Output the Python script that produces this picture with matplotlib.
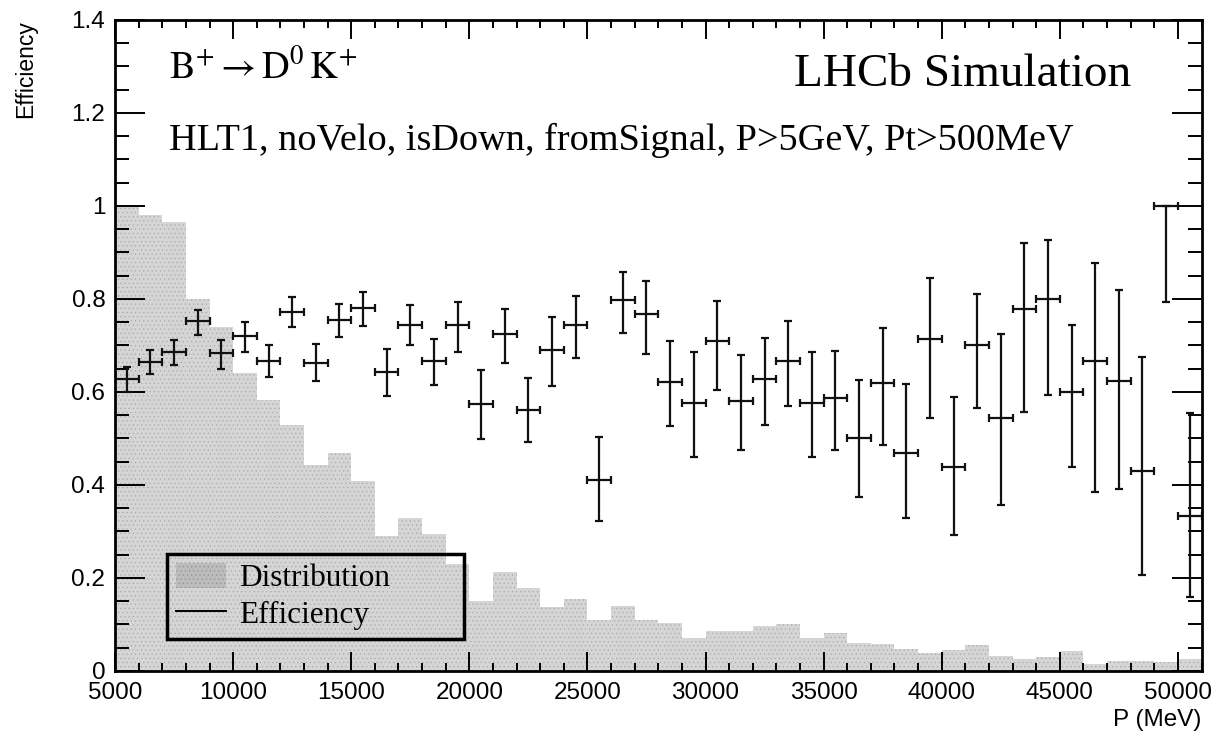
import matplotlib
matplotlib.use('Agg')
import matplotlib.pyplot as plt
import numpy as np
from matplotlib.lines import Line2D
from matplotlib.patches import Patch
from matplotlib.ticker import MultipleLocator, FuncFormatter

# momentum binning (MeV)
bin_edges = np.arange(5000, 51001, 1000)

# normalised momentum distribution, one value per bin
dist = [1.0, 0.98, 0.966, 0.80, 0.739, 0.641, 0.582, 0.53, 0.442, 0.469,
        0.408, 0.291, 0.33, 0.294, 0.231, 0.151, 0.212, 0.179, 0.137, 0.154,
        0.109, 0.14, 0.109, 0.104, 0.072, 0.086, 0.086, 0.097, 0.10, 0.072,
        0.081, 0.061, 0.058, 0.047, 0.039, 0.045, 0.056, 0.032, 0.026, 0.029,
        0.042, 0.014, 0.022, 0.022, 0.019, 0.026]

# efficiency per bin with lower / upper interval bounds
eff = [0.629, 0.664, 0.685, 0.752, 0.683, 0.720, 0.667, 0.772, 0.663, 0.755,
       0.781, 0.643, 0.745, 0.666, 0.743, 0.574, 0.724, 0.562, 0.690, 0.744,
       0.411, 0.798, 0.768, 0.622, 0.577, 0.709, 0.580, 0.627, 0.666, 0.576,
       0.586, 0.500, 0.619, 0.469, 0.714, 0.439, 0.700, 0.545, 0.779, 0.800,
       0.600, 0.666, 0.624, 0.429, 1.000, 0.334]
eff_lo = [0.601, 0.638, 0.659, 0.723, 0.650, 0.686, 0.632, 0.740, 0.623, 0.719,
          0.741, 0.591, 0.700, 0.614, 0.686, 0.498, 0.662, 0.493, 0.613, 0.673,
          0.323, 0.727, 0.681, 0.526, 0.460, 0.605, 0.475, 0.530, 0.570, 0.460,
          0.476, 0.375, 0.487, 0.328, 0.545, 0.292, 0.565, 0.357, 0.556, 0.594,
          0.439, 0.385, 0.391, 0.207, 0.794, 0.160]
eff_hi = [0.654, 0.691, 0.712, 0.777, 0.711, 0.750, 0.702, 0.804, 0.703, 0.790,
          0.816, 0.693, 0.786, 0.714, 0.793, 0.648, 0.778, 0.630, 0.762, 0.806,
          0.504, 0.858, 0.839, 0.709, 0.686, 0.796, 0.680, 0.717, 0.752, 0.686,
          0.689, 0.625, 0.737, 0.618, 0.845, 0.590, 0.811, 0.725, 0.920, 0.926,
          0.745, 0.877, 0.820, 0.676, 1.000, 0.554]

plt.rcParams['font.family'] = ['Liberation Sans', 'DejaVu Sans']
plt.rcParams['mathtext.fontset'] = 'stix'
plt.rcParams['hatch.linewidth'] = 0.4

fig = plt.figure(figsize=(12.15, 7.35), dpi=100)
ax = fig.add_axes([0.0947, 0.0871, 0.8942, 0.8857])

# distribution (ROOT-like dotted grey fill)
ax.stairs(dist, bin_edges, fill=True, facecolor='#d5d5d5', edgecolor='#a9a9a9',
          hatch='....', linewidth=0)

# efficiency points
centers = (bin_edges[:-1] + bin_edges[1:]) / 2
eff = np.array(eff)
yerr = [eff - np.array(eff_lo), np.array(eff_hi) - eff]
ax.errorbar(centers, eff, xerr=500, yerr=yerr, fmt='none', ecolor='#111111',
            elinewidth=1.6, capsize=2.6, capthick=1.6)

ax.set_xlim(5000, 51000)
ax.set_ylim(0, 1.4)

# ROOT style axes
for sp in ax.spines.values():
    sp.set_linewidth(2)
ax.xaxis.set_major_locator(MultipleLocator(5000))
ax.xaxis.set_minor_locator(MultipleLocator(1000))
ax.yaxis.set_major_locator(MultipleLocator(0.2))
ax.yaxis.set_minor_locator(MultipleLocator(0.05))
fmt = FuncFormatter(lambda v, p: f'{v:g}')
ax.xaxis.set_major_formatter(fmt)
ax.yaxis.set_major_formatter(fmt)
ax.tick_params(axis='both', which='both', direction='in', top=True, right=True,
               labelsize=17.5, width=1.4, colors='black')
ax.tick_params(axis='x', which='major', length=13.5, pad=8)
ax.tick_params(axis='x', which='minor', length=6)
ax.tick_params(axis='y', which='major', length=21.5, pad=7)
ax.tick_params(axis='y', which='minor', length=10)

ax.set_xlabel('P (MeV)', fontsize=17.5, loc='right')
ax.xaxis.set_label_coords(1.0, -0.058)
ax.set_ylabel('Efficiency', fontsize=16.5, loc='top')
ax.yaxis.set_label_coords(-0.072, 1.0)

# header texts
ax.text(0.0493, 0.909, r'$\mathrm{B^{+} \rightarrow D^{0}\,K^{+}}$', transform=ax.transAxes,
        fontsize=27.5, va='baseline', ha='left')
ax.text(0.0493, 0.800, 'HLT1, noVelo, isDown, fromSignal, P>5GeV, Pt>500MeV',
        transform=ax.transAxes, fontsize=27.5, va='baseline', ha='left',
        family='Liberation Serif')
ax.text(0.935, 0.899, 'LHCb Simulation', transform=ax.transAxes, fontsize=34,
        va='baseline', ha='right', family='Liberation Serif')

handles = [Patch(facecolor='#bcbcbc', edgecolor='#8f8f8f', hatch='....', linewidth=0),
           Line2D([], [], color='black', lw=1.4)]
leg = ax.legend(handles, ['Distribution', 'Efficiency'], loc='lower left',
                bbox_to_anchor=(0.0479, 0.049, 0.2734, 0.129), mode='expand',
                borderaxespad=0, fancybox=False, framealpha=1, handlelength=1.6,
                handleheight=0.85, handletextpad=0.4, borderpad=0.3,
                labelspacing=0.2, prop={'family': 'Liberation Serif', 'size': 22.5})
leg.get_frame().set_edgecolor('black')
leg.get_frame().set_linewidth(2.5)
leg.get_frame().set_facecolor('none')

fig.savefig('out.png', dpi=100, facecolor='white')
